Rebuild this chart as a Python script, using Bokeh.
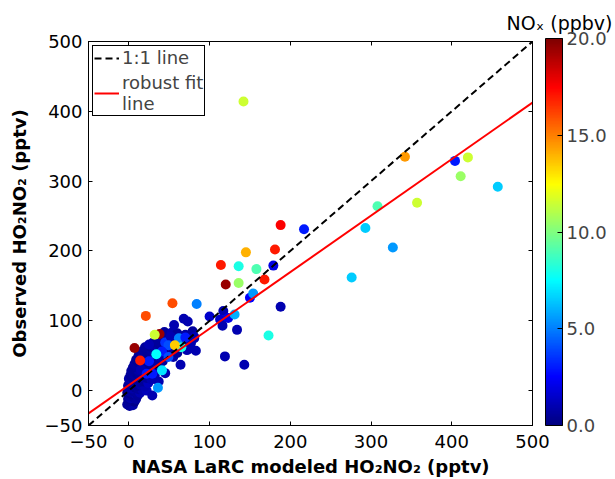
import numpy as np
from bokeh.plotting import figure
from bokeh.models import (ColumnDataSource, LinearColorMapper, ColorBar, FixedTicker,
                          PrintfTickFormatter, LinearAxis, Legend, LegendItem, Title, Range1d)
from bokeh.transform import transform
from bokeh.embed import file_html
from bokeh.resources import INLINE

# ---- data: (modeled, observed, NOx) ----
# dense low-NOx cluster
cluster_x = [-2, 1, 3, 5, 0, 4, 7, -1, 2, 6, 9, 0, 4, 8, 11, -2, 2, 6, 10, 14, 0, 4, 8, 12, 17, 22,
             -1, 3, 7, 11, 15, 20, 1, 5, 9, 13, 18, 24, 0, 4, 8, 12, 16, 22, 28, 2, 6, 10, 14, 19, 32,
             3, 7, 12, 17, 26, 5, 10, 15, 20, 30, 36, 7, 12, 18, 24, 9, 15, 21, 28, 34, 42, 12, 18, 24,
             30, 37, 47, 55, 16, 22, 28, 34, 41, 52, 60, 20, 27, 33, 39, 46, 55, 75, 30, 37, 44, 50, 58,
             68, 40, 48, 55, 66, 44, 53, 60, 70, 79]
cluster_y = [-20, -22, -19, -21, -16, -15, -16, -12, -11, -10, -12, -7, -6, -5, -7, -3, -2, -1, -2, -3,
             2, 3, 4, 2, 1, 0, 7, 8, 9, 7, 8, 6, 12, 13, 14, 12, 13, 11, 17, 18, 19, 17, 19, 18, 16,
             22, 23, 24, 22, 24, 22, 28, 29, 29, 30, 29, 33, 34, 35, 33, 33, 36, 38, 40, 40, 38, 44,
             45, 46, 43, 44, 42, 50, 51, 52, 50, 49, 50, 48, 56, 57, 58, 56, 57, 55, 54, 62, 63, 62,
             64, 62, 61, 60, 69, 70, 71, 70, 69, 70, 76, 78, 77, 73, 84, 83, 82, 80, 85]
cluster_nox = [0.5, 0.6, 0.4, 0.8, 0.5, 0.6, 0.3, 0.4, 0.9, 0.5, 0.7, 0.6, 0.4, 0.8, 0.5, 0.3, 0.7,
               0.5, 0.6, 1.0, 0.5, 0.8, 0.4, 0.6, 0.9, 1.2, 0.6, 0.5, 0.7, 0.4, 0.8, 1.0, 0.5, 0.6,
               0.4, 0.7, 0.5, 1.2, 0.8, 0.5, 0.6, 0.4, 0.9, 0.6, 1.0, 0.5, 0.7, 0.4, 0.6, 0.5, 1.0,
               0.6, 0.5, 0.8, 0.4, 0.7, 0.5, 0.6, 0.4, 0.9, 0.6, 0.8, 0.7, 0.5, 0.6, 0.5, 0.4, 0.6,
               0.8, 0.5, 0.7, 0.6, 0.5, 0.7, 0.4, 0.6, 0.9, 0.5, 0.8, 0.6, 0.5, 0.7, 0.4, 0.6, 0.7,
               0.5, 0.6, 0.4, 0.8, 0.5, 0.7, 0.6, 0.8, 0.5, 0.6, 0.4, 0.8, 0.5, 0.6, 0.7, 0.5, 0.6,
               0.4, 0.6, 0.9, 0.5, 0.7, 0.6]

# scattered points
other_x = [29, 45, 37, 25, 15, 64, 83, 72, 77, 81, 25, 45, 52, 62, 70, 81, 49, 41, 56, 68, 73, 100,
           117, 113, 123, 116, 134, 119, 143, 188, 150, 179, 217,
           29, 22, 36, 41, 49, 34, 65, 57, 14, 7, 38, 32, 21, 54, 84, 131, 173, 154, 136, 120, 136,
           114, 145, 168, 158, 181, 188, 142, 276, 327, 293, 308, 357, 457, 411, 420, 404, 342]
other_y = [-7, 25, 13, 42, 30, 37, 57, 58, 68, 77, 66, 69, 77, 75, 76, 75, 65, 56, 94, 103, 99, 106,
           114, 102, 104, 93, 87, 49, 37, 120, 133, 179, 231,
           24, 24, 4, 29, 48, 52, 62, 65, 43, 61, 81, 80, 107, 125, 124, 109, 79, 139, 154, 152, 178,
           180, 198, 159, 174, 202, 237, 414, 162, 205, 233, 264, 269, 292, 307, 334, 329, 335]
other_nox = [1.0, 1.0, 1.0, 3.0, 1.0, 1.0, 1.0, 1.0, 1.0, 1.0, 1.0, 3.5, 1.0, 5.0, 3.0, 1.0, 4.0,
             3.0, 1.0, 1.0, 1.0, 1.5, 1.0, 1.5, 2.0, 1.0, 1.0, 1.0, 1.0, 1.0, 2.5, 2.0, 3.0,
             3.0, 3.0, 5.5, 7.0, 4.0, 7.5, 8.0, 13.5, 17.0, 19.5, 19.5, 11.5, 16.0, 16.0, 5.0, 6.0,
             8.0, 5.5, 10.5, 19.5, 8.0, 17.0, 14.0, 17.0, 9.0, 17.0, 17.5, 11.5, 6.5, 5.5, 6.5, 9.0,
             11.5, 6.5, 10.5, 11.5, 3.0, 14.5]

line_11 = [-50, 500]
fit_slope = 0.809
fit_intercept = 7.9
ticks = [-50, 0, 100, 200, 300, 400, 500]
cbar_ticks = [0, 5, 10, 15, 20]


def jet(n=256):
    out = []
    for i in range(n):
        t = i / (n - 1)
        r = min(max(1.5 - abs(4 * t - 3), 0), 1)
        g = min(max(1.5 - abs(4 * t - 2), 0), 1)
        b = min(max(1.5 - abs(4 * t - 1), 0), 1)
        out.append("#%02x%02x%02x" % (int(round(r * 255)), int(round(g * 255)), int(round(b * 255))))
    return out


FONT = "DejaVu Sans"
mapper = LinearColorMapper(palette=jet(), low=0, high=20)

p = figure(width=615, height=479, x_range=Range1d(-50, 500), y_range=Range1d(-50, 500),
           output_backend="svg", toolbar_location=None,
           min_border_left=88, min_border_right=83, min_border_top=41, min_border_bottom=51)
p.grid.visible = False
p.outline_line_color = "black"
p.outline_line_width = 1
p.outline_line_alpha = 1

src = ColumnDataSource(dict(x=cluster_x + other_x, y=cluster_y + other_y,
                            nox=cluster_nox + other_nox))
p.scatter("x", "y", source=src, size=10, line_color=None,
          fill_color=transform("nox", mapper))

r1 = p.line(line_11, line_11, line_color="black", line_dash="7 4", line_width=2)
fit_x = [-50, 500]
fit_y = [fit_slope * v + fit_intercept for v in fit_x]
r2 = p.line(fit_x, fit_y, line_color="red", line_width=2)

for ax in (p.xaxis[0], p.yaxis[0]):
    ax.ticker = FixedTicker(ticks=ticks)
    ax.major_tick_in = 4
    ax.major_tick_out = 0
    ax.minor_tick_line_color = None
    ax.major_label_text_font = FONT
    ax.major_label_text_font_size = "18px"
    ax.major_label_text_color = "black"
    ax.axis_line_color = "black"
    ax.major_tick_line_color = "black"
    ax.axis_label_text_font = FONT
    ax.axis_label_text_font_size = "18px"
    ax.axis_label_text_font_style = "bold"
    ax.axis_label_text_color = "black"

p.xaxis.axis_label = "NASA LaRC modeled HO\u2082NO\u2082 (pptv)"
p.yaxis.axis_label = "Observed HO\u2082NO\u2082 (pptv)"
p.xaxis.major_label_standoff = 9
p.yaxis.major_label_standoff = 6
p.xaxis.axis_label_standoff = 5
p.yaxis.axis_label_standoff = 12

for side in ("above", "right"):
    ax = LinearAxis(ticker=FixedTicker(ticks=ticks), major_label_text_font_size="18px",
                    major_label_overrides={t: "" for t in ticks},
                    major_tick_in=4, major_tick_out=0, minor_tick_line_color=None,
                    axis_line_color="black", major_label_standoff=0)
    p.add_layout(ax, side)

legend = Legend(items=[LegendItem(label="1:1 line", renderers=[r1]),
                       LegendItem(label="robust fit\nline", renderers=[r2])],
                location="top_left", label_text_font=FONT, label_text_font_size="18px",
                label_text_line_height=1.4,
                border_line_color="black", border_line_width=1, border_line_alpha=1,
                glyph_width=25, label_standoff=3, padding=1, spacing=4, margin=4)
p.add_layout(legend)

cbar = ColorBar(color_mapper=mapper, ticker=FixedTicker(ticks=cbar_ticks),
                formatter=PrintfTickFormatter(format="%.1f"), width=17, height=387,
                padding=0, margin=0, location=(13, 0), label_standoff=4,
                major_label_text_font=FONT, major_label_text_font_size="18px",
                major_tick_line_color="black", major_tick_in=5, minor_tick_line_color=None,
                bar_line_color="black", background_fill_color=None, border_line_color=None)
p.add_layout(cbar, "right")

cbar_title = Title(text="NO\u2093 (ppbv)", align="right", offset=-80, text_font=FONT,
                   text_font_size="19px", text_font_style="normal", text_color="black",
                   standoff=15)
p.add_layout(cbar_title, "above")

open("out.html", "w").write(file_html(p, INLINE))
